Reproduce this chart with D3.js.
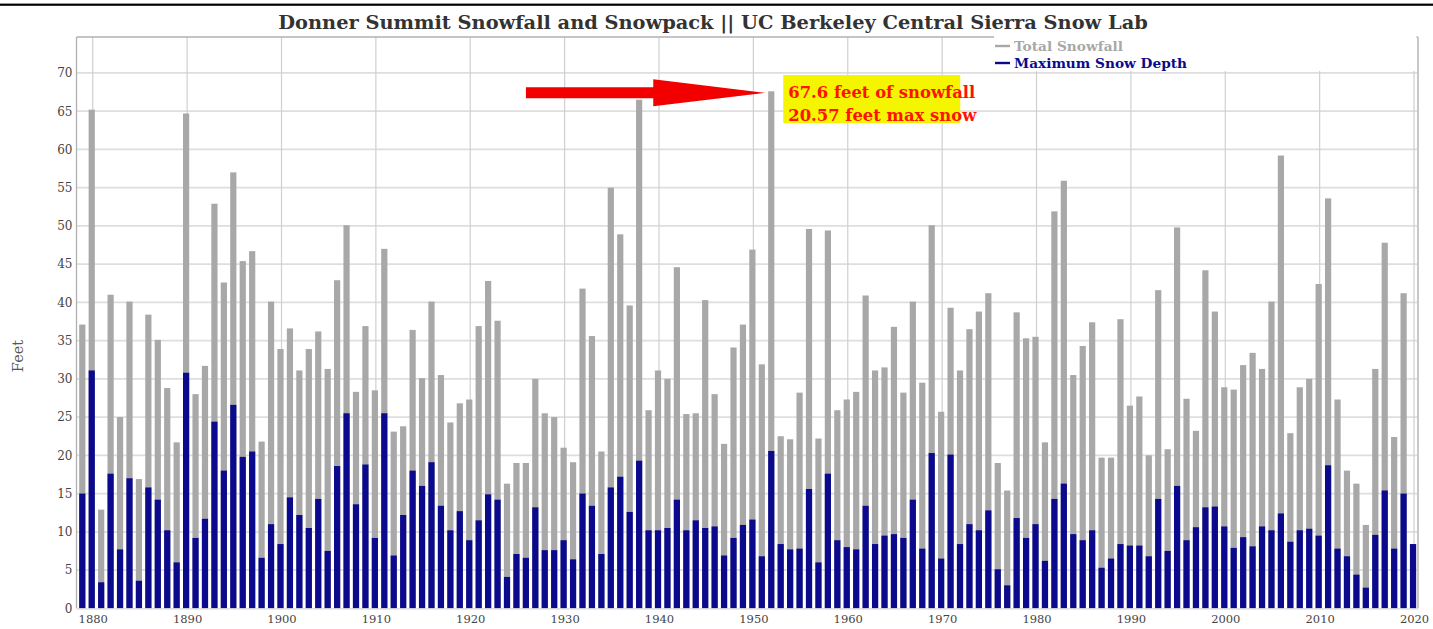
<!DOCTYPE html>
<html><head><meta charset="utf-8">
<script src="https://cdn.jsdelivr.net/npm/d3@7"></script>
<style>body{margin:0;background:#fff;} svg{display:block;} text{font-family:"DejaVu Serif",serif;}</style>
</head><body><svg id="c" width="1433" height="629"></svg>
<script>
const years = [1879,1880,1881,1882,1883,1884,1885,1886,1887,1888,1889,1890,1891,1892,1893,1894,1895,1896,1897,1898,1899,
1900,1901,1902,1903,1904,1905,1906,1907,1908,1909,1910,1911,1912,1913,1914,1915,1916,1917,1918,1919,
1920,1921,1922,1923,1924,1925,1926,1927,1928,1929,1930,1931,1932,1933,1934,1935,1936,1937,1938,1939,
1940,1941,1942,1943,1944,1945,1946,1947,1948,1949,1950,1951,1952,1953,1954,1955,1956,1957,1958,1959,
1960,1961,1962,1963,1964,1965,1966,1967,1968,1969,1970,1971,1972,1973,1974,1975,1976,1977,1978,1979,
1980,1981,1982,1983,1984,1985,1986,1987,1988,1989,1990,1991,1992,1993,1994,1995,1996,1997,1998,1999,
2000,2001,2002,2003,2004,2005,2006,2007,2008,2009,2010,2011,2012,2013,2014,2015,2016,2017,2018,2019,2020];
const totalSnowfall = [37.1,65.2,12.9,41.0,25.0,40.1,16.9,38.4,35.1,28.8,21.7,64.7,28.0,31.7,52.9,42.6,57.0,45.4,46.7,21.8,40.1,
33.9,36.6,31.1,33.9,36.2,31.3,42.9,50.1,28.3,36.9,28.5,47.0,23.1,23.8,36.4,30.1,40.1,30.5,24.3,26.8,
27.3,36.9,42.8,37.6,16.3,19.0,19.0,30.0,25.5,25.0,21.0,19.1,41.8,35.6,20.5,55.0,48.9,39.6,66.5,25.9,
31.1,30.0,44.6,25.4,25.5,40.3,28.0,21.5,34.1,37.1,46.9,31.9,67.6,22.5,22.1,28.2,49.6,22.2,49.4,25.9,
27.3,28.3,40.9,31.1,31.5,36.8,28.2,40.1,29.5,50.1,25.7,39.3,31.1,36.5,38.8,41.2,19.0,15.4,38.7,35.3,
35.5,21.7,51.9,55.9,30.5,34.3,37.4,19.7,19.7,37.8,26.5,27.7,20.0,41.6,20.8,49.8,27.4,23.2,44.2,38.8,
28.9,28.6,31.8,33.4,31.3,40.1,59.2,22.9,28.9,30.0,42.4,53.6,27.3,18.0,16.3,10.9,31.3,47.8,22.4,41.2,8.4];
const maxSnowDepth = [15.0,31.1,3.4,17.6,7.7,17.0,3.6,15.8,14.2,10.2,6.0,30.8,9.2,11.7,24.4,18.0,26.6,19.8,20.5,6.6,11.0,
8.4,14.5,12.2,10.5,14.3,7.5,18.6,25.5,13.6,18.8,9.2,25.5,6.9,12.2,18.0,16.0,19.1,13.4,10.2,12.7,
8.9,11.5,14.9,14.2,4.1,7.1,6.6,13.2,7.6,7.6,8.9,6.4,15.0,13.4,7.1,15.8,17.2,12.6,19.3,10.2,
10.2,10.5,14.2,10.2,11.5,10.5,10.7,6.9,9.2,10.9,11.6,6.8,20.57,8.4,7.7,7.8,15.6,6.0,17.6,8.9,
8.0,7.7,13.4,8.4,9.5,9.7,9.2,14.2,7.8,20.3,6.5,20.1,8.4,11.0,10.2,12.8,5.1,3.0,11.8,9.2,
11.0,6.2,14.3,16.3,9.7,8.9,10.2,5.3,6.5,8.4,8.2,8.2,6.8,14.3,7.5,16.0,8.9,10.6,13.2,13.3,
10.7,7.9,9.3,8.1,10.7,10.2,12.4,8.7,10.2,10.4,9.5,18.7,7.8,6.8,4.4,2.7,9.6,15.4,7.8,15.0,8.4];
const yTicks = [0,5,10,15,20,25,30,35,40,45,50,55,60,65,70];
const xTicks = [1880,1890,1900,1910,1920,1930,1940,1950,1960,1970,1980,1990,2000,2010,2020];
const titleText = "Donner Summit Snowfall and Snowpack || UC Berkeley Central Sierra Snow Lab";
const seriesNames = ["Total Snowfall","Maximum Snow Depth"];
const yAxisTitle = "Feet";
const annotationLines = ["67.6 feet of snowfall","20.57 feet max snow"];
const highlightYear = 1952;

const W = 1433, H = 629;
const grayC = "#a8a8a8", blueC = "#0b0a8c";
const P = {left:76.5, right:1418, top:37, bottom:608.3};
const x = d3.scaleLinear().domain([1878.28, 2020.42]).range([P.left, P.right]);
const y = d3.scaleLinear().domain([0, 74.7]).range([P.bottom, P.top]);
const svg = d3.select('#c');

function fit(sel, target){
  const w = sel.node().getComputedTextLength();
  const fs = parseFloat(sel.attr('font-size'));
  sel.attr('font-size', (fs*target/w).toFixed(2));
}

svg.append('rect').attr('width',W).attr('height',H).attr('fill','#fff');
svg.append('rect').attr('x',0).attr('y',3.6).attr('width',W).attr('height',2.2).attr('fill','#000');

// grid
svg.append('g').selectAll('line').data(yTicks.filter(d=>d>0)).join('line')
  .attr('x1',P.left).attr('x2',P.right).attr('y1',d=>y(d)).attr('y2',d=>y(d))
  .attr('stroke','#dedede').attr('stroke-width',1.8);
svg.append('g').selectAll('line').data(xTicks).join('line')
  .attr('x1',d=>x(d)).attr('x2',d=>x(d)).attr('y1',P.top).attr('y2',P.bottom)
  .attr('stroke','#d0d0d0').attr('stroke-width',1.2);

// bars
const bw = 6.2;
const rows = years.map((yr,i)=>({yr, total: totalSnowfall[i], depth: maxSnowDepth[i]}));
svg.append('g').selectAll('rect').data(rows).join('rect')
  .attr('x',d=>x(d.yr)-1-bw/2).attr('width',bw)
  .attr('y',d=>y(d.total)).attr('height',d=>y(0)-y(d.total)).attr('fill',grayC);
svg.append('g').selectAll('rect').data(rows).join('rect')
  .attr('x',d=>x(d.yr)-1-bw/2).attr('width',bw)
  .attr('y',d=>y(d.depth)).attr('height',d=>y(0)-y(d.depth)).attr('fill',blueC);

// frame
const frame = svg.append('g').attr('stroke','#b0b0b0').attr('stroke-width',1.3).attr('fill','none');
frame.append('line').attr('x1',P.left).attr('x2',P.left).attr('y1',P.top).attr('y2',P.bottom);
frame.append('line').attr('x1',P.right).attr('x2',P.right).attr('y1',P.top).attr('y2',P.bottom).attr('stroke','#c8c8c8').attr('stroke-width',2);
frame.append('line').attr('x1',P.left).attr('x2',P.right).attr('y1',P.top).attr('y2',P.top);
frame.append('line').attr('x1',P.left).attr('x2',P.right).attr('y1',P.bottom+0.5).attr('y2',P.bottom+0.5).attr('stroke','#d8d8d8');

// axes
const ya = svg.append('g').attr('transform',`translate(${P.left},0)`)
  .call(d3.axisLeft(y).tickValues(yTicks).tickSize(0).tickPadding(4));
ya.select('.domain').remove();
ya.selectAll('text').attr('font-family','DejaVu Serif').attr('font-size',12).attr('fill','#444');
const xa = svg.append('g').attr('transform',`translate(0,${P.bottom})`)
  .call(d3.axisBottom(x).tickValues(xTicks).tickFormat(d3.format('d')).tickSize(0).tickPadding(7));
xa.select('.domain').remove();
xa.selectAll('text').attr('font-family','DejaVu Serif').attr('font-size',11.5).attr('fill','#444');

svg.append('text').attr('transform','translate(23,356) rotate(-90)').attr('text-anchor','middle')
  .attr('font-size',14.5).attr('fill','#555').text(yAxisTitle);

// title
const t = svg.append('text').attr('x',713).attr('y',29).attr('text-anchor','middle')
  .attr('font-weight','bold').attr('font-size',18).attr('fill','#333').text(titleText);
fit(t, 870);

// legend
svg.append('rect').attr('x',994).attr('y',32).attr('width',P.right-994-1.5).attr('height',39).attr('fill','#fff');
const legColors = [grayC, blueC];
const legY = [46, 63];
const legW = [109, 173];
seriesNames.forEach((n,i)=>{
  svg.append('line').attr('x1',995).attr('x2',1010).attr('y1',legY[i]).attr('y2',legY[i])
    .attr('stroke',legColors[i]).attr('stroke-width',2.4);
  const lt = svg.append('text').attr('x',1014).attr('y',legY[i]+4.5).attr('font-size',12.5)
    .attr('font-weight','bold').attr('fill',legColors[i]).text(n);
  fit(lt, legW[i]);
});

// annotation
const hi = years.indexOf(highlightYear);
const tipX = x(highlightYear) - 7, tipY = y(totalSnowfall[hi]) + 1.5;
const tailX = x(1925.9);
const headL = 112, headH = 13.5, shaftH = 5.5;
svg.append('polygon').attr('fill','#f20000').attr('points',[
  [tailX, tipY-shaftH],[tipX-headL, tipY-shaftH],[tipX-headL, tipY-headH],[tipX, tipY],
  [tipX-headL, tipY+headH],[tipX-headL, tipY+shaftH],[tailX, tipY+shaftH]].map(p=>p.join(',')).join(' '));
const bx = tipX + 18;
svg.append('rect').attr('x',bx).attr('y',75).attr('width',177).attr('height',48).attr('fill','#f5f500');
const a1 = svg.append('text').attr('x',bx+5).attr('y',98).attr('font-size',16).attr('font-weight','bold')
  .attr('fill','#ff1200').text(annotationLines[0]);
fit(a1, 187);
svg.append('text').attr('x',bx+5).attr('y',121).attr('font-size',a1.attr('font-size')).attr('font-weight','bold')
  .attr('fill','#ff1200').text(annotationLines[1]);
</script></body></html>
